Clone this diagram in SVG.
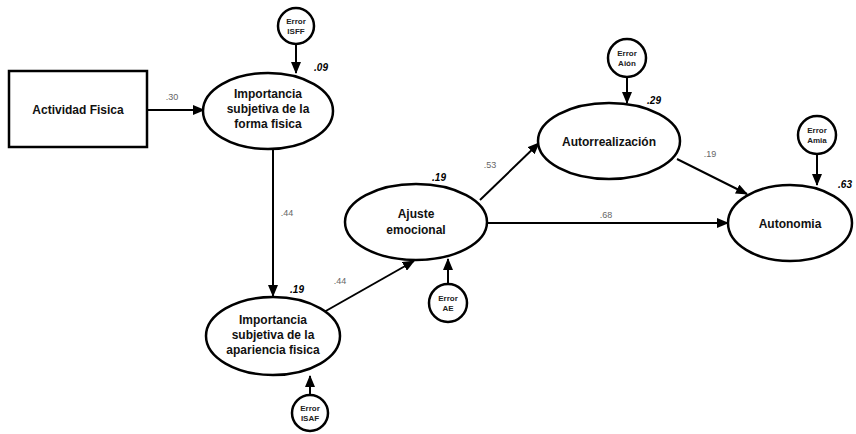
<svg xmlns="http://www.w3.org/2000/svg" width="856" height="434" viewBox="0 0 856 434">
<style>
.shape{fill:#fff;stroke:#000;stroke-width:2.5}
.err{fill:#fff;stroke:#000;stroke-width:2.5}
.lbl{font-family:"Liberation Sans",Arial,sans-serif;font-weight:bold;font-size:12px;fill:#111;text-anchor:middle}
.el{font-family:"Liberation Sans",Arial,sans-serif;font-weight:bold;font-size:8px;fill:#222;text-anchor:middle}
.coef{font-family:"Liberation Sans",Arial,sans-serif;font-size:9px;fill:#666;text-anchor:middle}
.r2{font-family:"Liberation Sans",Arial,sans-serif;font-size:10px;font-weight:bold;font-style:italic;fill:#000;text-anchor:middle}
.conn line{stroke:#000;stroke-width:2;marker-end:url(#ah)}
</style>
<defs>
<marker id="ah" markerWidth="12" markerHeight="10" refX="11" refY="5" orient="auto" markerUnits="userSpaceOnUse">
<path d="M0,0 L12,5 L0,10 z" fill="#000"/>
</marker>
</defs>
<rect width="856" height="434" fill="#fff"/>
<g id="connectors" class="conn">
<line x1="148" y1="110" x2="204" y2="110"/>
<line x1="296" y1="45" x2="296" y2="73"/>
<line x1="273" y1="148" x2="273" y2="296"/>
<line x1="310" y1="395" x2="310" y2="376"/>
<line x1="324" y1="312" x2="414" y2="261"/>
<line x1="448" y1="284" x2="448" y2="259"/>
<line x1="480" y1="200" x2="539" y2="143"/>
<line x1="627" y1="78" x2="627" y2="103"/>
<line x1="487" y1="223" x2="728" y2="223"/>
<line x1="677" y1="159" x2="747" y2="194"/>
<line x1="817" y1="155" x2="817" y2="185"/>
</g>
<g id="coefs">
<text class="coef" x="172" y="100">.30</text>
<text class="coef" x="287" y="216">.44</text>
<text class="coef" x="340" y="284">.44</text>
<text class="coef" x="490" y="168">.53</text>
<text class="coef" x="710" y="157">.19</text>
<text class="coef" x="606" y="218">.68</text>
<text class="r2" x="321" y="71">.09</text>
<text class="r2" x="297" y="293">.19</text>
<text class="r2" x="439" y="181">.19</text>
<text class="r2" x="654" y="104">.29</text>
<text class="r2" x="845" y="188">.63</text>
</g>
<g id="actividad">
<rect class="shape" x="9" y="71" width="138" height="76"/>
<text class="lbl" x="78" y="114">Actividad Fisica</text>
</g>
<g id="isff">
<ellipse class="shape" cx="268" cy="111" rx="65" ry="38"/>
<text class="lbl" x="268" y="98">Importancia</text>
<text class="lbl" x="268" y="113">subjetiva de la</text>
<text class="lbl" x="268" y="128">forma fisica</text>
</g>
<g id="isaf">
<ellipse class="shape" cx="273" cy="336" rx="67" ry="39"/>
<text class="lbl" x="273" y="324">Importancia</text>
<text class="lbl" x="273" y="339">subjetiva de la</text>
<text class="lbl" x="273" y="354">apariencia fisica</text>
</g>
<g id="ajuste">
<ellipse class="shape" cx="416" cy="222" rx="71" ry="38"/>
<text class="lbl" x="416" y="218">Ajuste</text>
<text class="lbl" x="416" y="234">emocional</text>
</g>
<g id="autorrealizacion">
<ellipse class="shape" cx="609" cy="141" rx="71" ry="38"/>
<text class="lbl" x="609" y="146">Autorrealización</text>
</g>
<g id="autonomia">
<ellipse class="shape" cx="790" cy="223" rx="62" ry="38"/>
<text class="lbl" x="790" y="228">Autonomia</text>
</g>
<g id="error-isff">
<circle class="err" cx="296" cy="26" r="18"/>
<text class="el" x="296" y="24">Error</text>
<text class="el" x="296" y="34">ISFF</text>
</g>
<g id="error-isaf">
<circle class="err" cx="310" cy="413" r="18"/>
<text class="el" x="310" y="411">Error</text>
<text class="el" x="310" y="421">ISAF</text>
</g>
<g id="error-ae">
<circle class="err" cx="448" cy="303" r="19"/>
<text class="el" x="448" y="301">Error</text>
<text class="el" x="448" y="311">AE</text>
</g>
<g id="error-aion">
<circle class="err" cx="627" cy="58" r="19"/>
<text class="el" x="627" y="56">Error</text>
<text class="el" x="627" y="66">Aión</text>
</g>
<g id="error-amia">
<circle class="err" cx="817" cy="135" r="19"/>
<text class="el" x="817" y="133">Error</text>
<text class="el" x="817" y="143">Amia</text>
</g>
</svg>
